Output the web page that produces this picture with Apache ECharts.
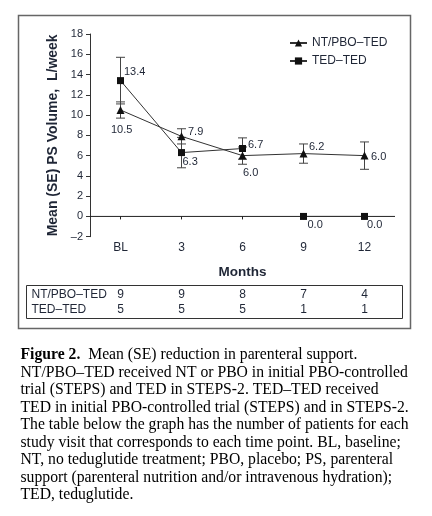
<!DOCTYPE html>
<html>
<head>
<meta charset="utf-8">
<script src="https://cdn.jsdelivr.net/npm/echarts@6/dist/echarts.min.js"></script>
<style>
html,body{margin:0;padding:0;background:#fff;}
#main{width:432px;height:516px;}
</style>
</head>
<body>
<div id="main"></div>
<script>
// ---- data ----
const categories = ['BL', '3', '6', '9', '12'];
const ntName = 'NT/PBO–TED';
const tedName = 'TED–TED';
const ntValues = [10.5, 7.9, 6.0, 6.2, 6.0];
const ntSE = [0.8, 0.75, 0.85, 0.95, 1.35];
const tedValues = [13.4, 6.3, 6.7, 0.0, 0.0];
const tedSE = [2.3, 1.5, 1.05, null, null];
const ntCounts = [9, 9, 8, 7, 4];
const tedCounts = [5, 5, 5, 1, 1];
const yMin = -2, yMax = 18, yStep = 2;
const captionLines = [
  'NT/PBO–TED received NT or PBO in initial PBO-controlled',
  'trial (STEPS) and TED in STEPS-2. TED–TED received',
  'TED in initial PBO-controlled trial (STEPS) and in STEPS-2.',
  'The table below the graph has the number of patients for each',
  'study visit that corresponds to each time point. BL, baseline;',
  'NT, no teduglutide treatment; PBO, placebo; PS, parenteral',
  'support (parenteral nutrition and/or intravenous hydration);',
  'TED, teduglutide.'
];

// ---- label placement (style, not data) ----
const ntLabelOffsets = [[-13.5, 19.5], [2.5, -4.5], [-3.5, 17], [1.5, -7], [2.5, 1]];
const tedLabelOffsets = [[0, -9], [-2.5, 9], [2, -4], [0.5, 9], [-1, 9]];
const TEXT = '#1f2636';
const FONT = 'Liberation Sans, Arial, sans-serif';

const chart = echarts.init(document.getElementById('main'), null, {renderer: 'canvas'});

function errData(vals, se) {
  const out = [];
  vals.forEach((v, i) => { if (se[i] != null) out.push([i, v - se[i], v + se[i]]); });
  return out;
}
function errRender(params, api) {
  const x = api.value(0);
  const lo = api.coord([x, api.value(1)]);
  const hi = api.coord([x, api.value(2)]);
  const w = 4.5;
  const st = {stroke: '#444', lineWidth: 1};
  return {type: 'group', children: [
    {type: 'line', shape: {x1: lo[0], y1: lo[1], x2: hi[0], y2: hi[1]}, style: st},
    {type: 'line', shape: {x1: lo[0] - w, y1: lo[1], x2: lo[0] + w, y2: lo[1]}, style: st},
    {type: 'line', shape: {x1: hi[0] - w, y1: hi[1], x2: hi[0] + w, y2: hi[1]}, style: st}
  ]};
}
function labelled(vals, offsets, keep) {
  return vals.map((v, i) => keep(i) ? {
    value: v,
    label: {show: true, position: 'right', distance: 0, offset: offsets[i],
            formatter: v.toFixed(1)}
  } : '-');
}

const option = {
  animation: false,
  backgroundColor: '#fff',
  textStyle: {fontFamily: FONT},
  grid: {left: 90, right: 37, top: 34, bottom: 279.3, containLabel: false},
  legend: {
    data: [ntName, tedName],
    orient: 'vertical', left: 289, top: 37,
    itemWidth: 17, itemHeight: 9, itemGap: 6, padding: 0,
    textStyle: {fontSize: 12, color: TEXT, fontFamily: FONT}
  },
  xAxis: {
    type: 'category', data: categories, boundaryGap: true,
    axisLine: {show: false}, axisTick: {show: false},
    axisLabel: {fontSize: 12, color: TEXT, margin: 5, fontFamily: FONT},
    name: 'Months', nameLocation: 'middle', nameGap: 29,
    nameTextStyle: {fontSize: 13.5, fontWeight: 'bold', color: TEXT, fontFamily: FONT}
  },
  yAxis: {
    type: 'value', min: yMin, max: yMax, interval: yStep,
    splitLine: {show: false},
    axisLine: {show: true, lineStyle: {color: '#333', width: 1}},
    axisTick: {show: true, length: 4, lineStyle: {color: '#333'}},
    axisLabel: {fontSize: 11, color: TEXT, margin: 7, fontFamily: FONT,
      formatter: v => String(v).replace('-', '–')},
    name: 'Mean (SE) PS Volume,  L/week', nameLocation: 'middle', nameGap: 28, nameRotate: 90,
    nameTextStyle: {fontSize: 14, fontWeight: 'bold', color: TEXT, fontFamily: FONT}
  },
  series: [
    {
      type: 'custom', name: 'zeroAxis', silent: true, z: 1,
      data: categories.map((c, i) => [i, 0]),
      renderItem: function (params, api) {
        const p = api.coord([api.value(0), 0]);
        const cs = params.coordSys;
        const st = {stroke: '#222', lineWidth: 1};
        const ch = [{type: 'line', shape: {x1: p[0], y1: p[1], x2: p[0], y2: p[1] + 3}, style: st}];
        if (params.dataIndex === 0) {
          ch.push({type: 'line', shape: {x1: cs.x, y1: p[1], x2: cs.x + cs.width, y2: p[1]}, style: st});
        }
        return {type: 'group', children: ch};
      }
    },
    {type: 'custom', name: 'ntErr', silent: true, z: 2, data: errData(ntValues, ntSE), renderItem: errRender},
    {type: 'custom', name: 'tedErr', silent: true, z: 2, data: errData(tedValues, tedSE), renderItem: errRender},
    {
      type: 'line', name: ntName, z: 3,
      data: labelled(ntValues, ntLabelOffsets, () => true),
      symbol: 'triangle', symbolSize: 8, showSymbol: true,
      lineStyle: {color: '#333', width: 1},
      itemStyle: {color: '#111', borderWidth: 0},
      label: {fontSize: 11, color: TEXT, fontFamily: FONT}
    },
    {
      type: 'line', name: tedName, z: 3,
      data: labelled(tedValues, tedLabelOffsets, i => i < 3),
      symbol: 'rect', symbolSize: 7, showSymbol: true,
      lineStyle: {color: '#333', width: 1},
      itemStyle: {color: '#111', borderWidth: 0},
      label: {fontSize: 11, color: TEXT, fontFamily: FONT}
    },
    {
      type: 'line', name: tedName, z: 4,
      data: labelled(tedValues, tedLabelOffsets, i => i >= 3),
      symbol: 'rect', symbolSize: 7, showSymbol: true,
      lineStyle: {color: '#333', width: 1},
      itemStyle: {color: '#111', borderWidth: 0},
      label: {fontSize: 11, color: TEXT, fontFamily: FONT}
    }
  ]
};
chart.setOption(option);

// ---- frame, table and caption ----
const g = [];
g.push({type: 'rect', shape: {x: 18.5, y: 15.5, width: 392, height: 313},
        style: {fill: null, stroke: '#666', lineWidth: 1.5}, z: 0});
g.push({type: 'rect', shape: {x: 26.5, y: 285.5, width: 376, height: 33},
        style: {fill: null, stroke: '#333', lineWidth: 1}, z: 0});
const rowY = [295, 310];
const rowNames = [ntName, tedName];
const rowCounts = [ntCounts, tedCounts];
rowNames.forEach((nm, r) => {
  g.push({type: 'text', x: 31.5, y: rowY[r],
          style: {text: nm, font: '12px ' + FONT, fill: TEXT, textVerticalAlign: 'middle', textAlign: 'left'}});
  rowCounts[r].forEach((n, i) => {
    const px = chart.convertToPixel({xAxisIndex: 0}, categories[i]);
    g.push({type: 'text', x: px, y: rowY[r],
            style: {text: String(n), font: '12px ' + FONT, fill: TEXT, textVerticalAlign: 'middle', textAlign: 'center'}});
  });
});
const capFont = '15.7px "Liberation Serif", "Times New Roman", serif';
const capTop = 355, capStep = 17.5;
g.push({type: 'text', x: 20.5, y: capTop, style: {
  rich: {b: {font: 'bold ' + capFont, fill: '#000'}, n: {font: capFont, fill: '#000'}},
  text: '{b|Figure 2.}{n|  Mean (SE) reduction in parenteral support.}',
  textVerticalAlign: 'middle', textAlign: 'left'}});
captionLines.forEach((t, k) => {
  g.push({type: 'text', x: 20.5, y: capTop + capStep * (k + 1),
          style: {text: t, font: capFont, fill: '#000', textVerticalAlign: 'middle', textAlign: 'left'}});
});
chart.setOption({graphic: {elements: g}});
</script>
</body>
</html>
